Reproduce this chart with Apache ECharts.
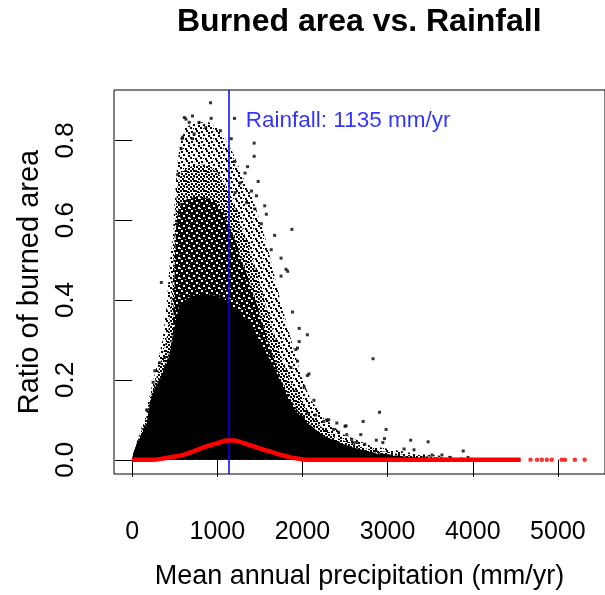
<!DOCTYPE html>
<html><head><meta charset="utf-8">
<script src="https://cdn.jsdelivr.net/npm/echarts@6/dist/echarts.min.js"></script>
<style>html,body{margin:0;padding:0;background:#fff}#c{width:605px;height:595px}</style>
</head><body><div id="c"></div>
<script>
// ---- data ----
const xTicks = [0, 1000, 2000, 3000, 4000, 5000];
const yTicks = [0, 0.2, 0.4, 0.6, 0.8];
const rainfallMean = 1135;
const annotY = 0.848;

// outer, sparse part of the point cloud (upper envelope)
const sparseX = [0,12,92,162,231,301,358,405,439,474,500,530,570,620,730,900,1000,1100,1180,1260,1340,1420,1500,1570,1650,1740,1830,1920,2000,2100,2230,2460,2800,3330,3900,4500];
const sparseY = [0,0.018,0.067,0.117,0.185,0.244,0.301,0.386,0.485,0.55,0.65,0.74,0.80,0.83,0.845,0.845,0.83,0.80,0.77,0.73,0.69,0.65,0.60,0.55,0.48,0.40,0.33,0.26,0.20,0.15,0.11,0.065,0.035,0.015,0.005,0.001];
// medium density part
const mediumX = [0,12,92,165,220,290,360,430,470,490,505,530,580,700,850,1000,1100,1180,1260,1340,1420,1500,1580,1660,1750,1850,1950,2060,2200,2400,2700,3200,3800,4300];
const mediumY = [0,0.016,0.063,0.105,0.16,0.21,0.26,0.33,0.42,0.52,0.60,0.68,0.72,0.735,0.74,0.72,0.69,0.65,0.60,0.55,0.50,0.44,0.38,0.32,0.26,0.20,0.16,0.12,0.085,0.055,0.03,0.012,0.004,0.001];
// dense part
const denseX = [0,12,92,173,208,266,358,440,474,492,502,515,545,650,800,950,1080,1160,1240,1320,1400,1480,1560,1650,1740,1840,1940,2060,2200,2400,2700,3200,3800];
const denseY = [0,0.015,0.058,0.093,0.143,0.18,0.218,0.268,0.31,0.40,0.50,0.58,0.63,0.655,0.66,0.65,0.62,0.58,0.53,0.48,0.43,0.38,0.32,0.26,0.205,0.16,0.125,0.095,0.065,0.04,0.022,0.008,0.002];
// solid core
const coreX = [0,12,35,92,173,208,266,358,439,474,509,555,700,850,1000,1150,1300,1400,1480,1580,1676,1760,1826,1950,2092,2250,2404,2580,2751,2900,3050,3329,3600,3907,4300];
const coreY = [0,0.013,0.03,0.055,0.09,0.14,0.178,0.214,0.263,0.30,0.345,0.39,0.41,0.415,0.41,0.39,0.36,0.335,0.305,0.265,0.23,0.185,0.15,0.115,0.085,0.06,0.045,0.032,0.022,0.014,0.01,0.006,0.004,0.002,0];

// individual scattered points
const ptX = [921,632,709,670,786,928,864,1037,593,728,709,1202,1164,1433,1433,1202,1356,1326,1268,1480,1402,1460,1557,1442,1344,1210,1876,1576,1518,1673,1633,1749,1807,613,586,575,535,555,535,
  343,381,324,266,246,170,73,
  1826,1749,1884,1962,2058,1942,1942,2077,2135,2058,2289,2404,2500,2598,2520,1962,1922,1865,2058,2020,2154,2251,2309,2366,2713,2578,2636,2732,
  2829,2905,2982,2685,2512,2424,2867,2944,2963,3271,3476,3888,3194,3310,3522,3638,3734,3945,3425];
const ptY = [0.894,0.853,0.861,0.845,0.845,0.855,0.832,0.824,0.808,0.816,0.804,0.855,0.804,0.793,0.760,0.747,0.734,0.718,0.693,0.697,0.673,0.661,0.636,0.628,0.644,0.669,0.577,0.615,0.591,0.562,0.526,0.505,0.477,0.857,0.804,0.779,0.714,0.640,0.591,
  0.444,0.256,0.243,0.223,0.194,0.125,0.043,
  0.472,0.460,0.370,0.329,0.313,0.280,0.247,0.215,0.149,0.117,0.100,0.092,0.084,0.043,0.063,0.296,0.276,0.231,0.211,0.182,0.112,0.096,0.100,0.076,0.096,0.051,0.043,0.039,
  0.253,0.119,0.076,0.063,0.085,0.069,0.049,0.043,0.053,0.049,0.045,0.022,0.027,0.025,0.012,0.012,0.006,0.006,0.006];

// red fitted curve
const redX = [0,150,290,380,500,575,650,728,800,882,960,1037,1113,1190,1268,1364,1480,1550,1633,1700,1788,1860,1922,2000,2300,2800,3300,3800,4300,4563];
const redY = [0,0,0.001,0.004,0.008,0.011,0.016,0.022,0.028,0.034,0.039,0.044,0.048,0.048,0.045,0.038,0.030,0.025,0.020,0.015,0.010,0.006,0.004,0.001,0,0,0,0,0,0];
const tailX = [4678,4755,4812,4870,4928,5044,5083,5199,5314];
const tailY = [0,0,0,0,0,0,0,0,0];

// ---- build ----
const zip = (a, b) => a.map((v, i) => [v, b[i]]);
function tile(bg, fg, cells) {
  const c = document.createElement('canvas');
  c.width = 10; c.height = 10;
  const g = c.getContext('2d');
  if (bg) { g.fillStyle = bg; g.fillRect(0, 0, 10, 10); }
  g.fillStyle = fg;
  cells.forEach(p => g.fillRect(p[0], p[1], p[2] || 2, p[3] || 2));
  return c;
}
const sparseTile = tile(null, '#000', [[1,1],[6,0],[3,4],[8,5],[0,7],[5,8],[8,2],[3,8,1,1]]);
const mediumTile = tile('#fff', '#000', [[0,0],[3,0],[5,0],[7,1],[1,3],[5,3],[8,4],[3,5],[0,6],[6,6],[2,8],[8,8],[4,7,1,1],[9,2,1,1]]);
const denseTile = tile('#000', '#fff', [[1,0],[6,2],[3,5],[8,7],[0,8,1,1],[5,9,1,1],[9,4,1,1]]);

const FONT = 'Liberation Sans, Arial, sans-serif';
function zone(xs, ys, fill, z) {
  return {
    type: 'line', data: zip(xs, ys), showSymbol: false, silent: true, z: z,
    lineStyle: { opacity: 0, width: 0 },
    areaStyle: { color: fill, opacity: 1 }
  };
}

const chart = echarts.init(document.getElementById('c'), null, { renderer: 'canvas' });
chart.setOption({
  animation: false,
  backgroundColor: '#fff',
  title: {
    text: 'Burned area vs. Rainfall', left: 177, top: 6, padding: 0,
    textStyle: { fontFamily: FONT, fontSize: 32, fontWeight: 'bold', color: '#000' }
  },
  grid: { left: 114, top: 90, width: 499, height: 392, show: true, borderColor: '#000', borderWidth: 1, backgroundColor: 'transparent' },
  xAxis: {
    type: 'value', min: -213, max: 5553,
    name: 'Mean annual precipitation (mm/yr)', nameLocation: 'middle', nameGap: 89,
    nameTextStyle: { fontFamily: FONT, fontSize: 27, color: '#000' },
    splitLine: { show: false },
    axisLine: { show: false },
    axisTick: { show: true, customValues: xTicks, length: 17, lineStyle: { color: '#000', width: 1 } },
    axisLabel: { customValues: xTicks, margin: 46, fontFamily: FONT, fontSize: 25, color: '#000',
      formatter: v => String(v) }
  },
  yAxis: {
    type: 'value', min: -0.0356, max: 0.926,
    name: 'Ratio of burned area', nameLocation: 'middle', nameGap: 70, nameRotate: 90,
    nameTextStyle: { fontFamily: FONT, fontSize: 29, color: '#000' },
    splitLine: { show: false },
    axisLine: { show: false },
    axisTick: { show: true, customValues: yTicks, length: 17, lineStyle: { color: '#000', width: 1 } },
    axisLabel: { customValues: yTicks, rotate: 90, margin: 35, fontFamily: FONT, fontSize: 26, color: '#000',
      formatter: v => Number(v).toFixed(1) }
  },
  series: [
    zone(sparseX, sparseY, { image: sparseTile, repeat: 'repeat' }, 1),
    zone(mediumX, mediumY, { image: mediumTile, repeat: 'repeat' }, 2),
    zone(denseX, denseY, { image: denseTile, repeat: 'repeat' }, 3),
    zone(coreX, coreY, '#000', 4),
    { type: 'scatter', data: zip(ptX, ptY), symbol: 'rect', symbolSize: 3, itemStyle: { color: '#000' }, silent: true, z: 5 },
    { type: 'line', data: zip(redX, redY), smooth: 0.3, showSymbol: false, silent: true, z: 6,
      lineStyle: { color: '#FF0000', width: 4.5 } },
    { type: 'scatter', data: zip(tailX, tailY), symbol: 'circle', symbolSize: 4.5, itemStyle: { color: '#FF0000' }, silent: true, z: 6 },
    { type: 'line', data: [], silent: true, z: 7,
      markLine: { silent: true, symbol: ['none', 'none'], label: { show: false }, animation: false,
        lineStyle: { color: '#0000FF', width: 1.5, type: 'solid' }, data: [{ xAxis: rainfallMean }] } },
    { type: 'scatter', data: [[rainfallMean, annotY]], symbolSize: 0, silent: true, z: 8,
      label: { show: true, position: 'right', distance: 17, formatter: 'Rainfall: ' + rainfallMean + ' mm/yr',
        fontFamily: FONT, fontSize: 22.5, color: '#0000FF' } }
  ]
});
</script></body></html>
